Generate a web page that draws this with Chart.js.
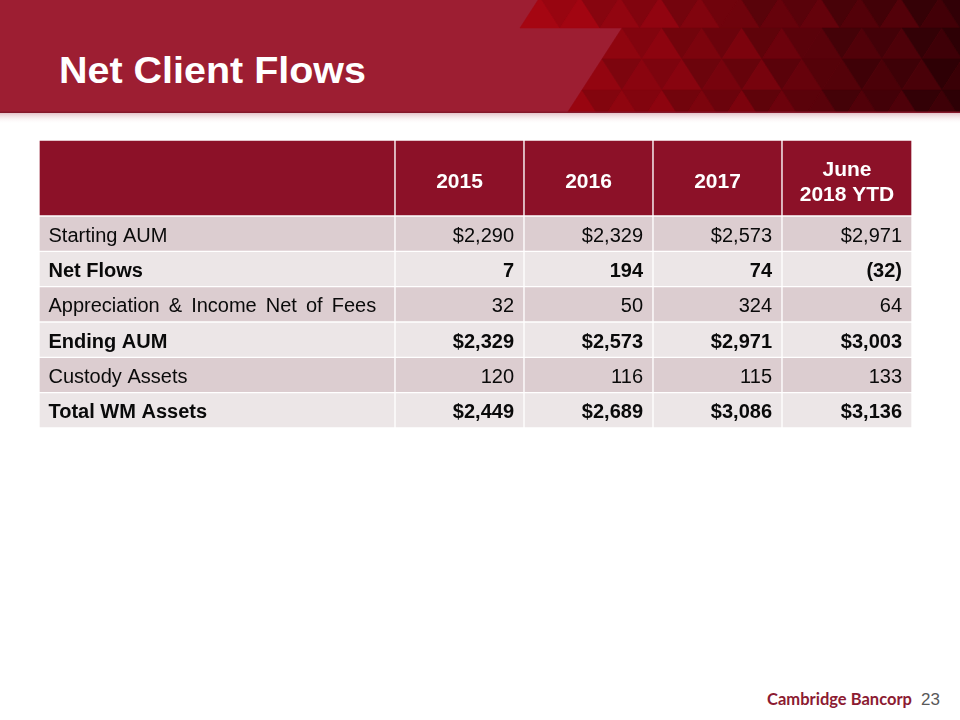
<!DOCTYPE html>
<html>
<head>
<meta charset="utf-8">
<script src="https://cdn.jsdelivr.net/npm/chart.js@4.4.1/dist/chart.umd.min.js"></script>
<style>
  html, body { margin: 0; padding: 0; background: #ffffff; width: 960px; height: 720px; overflow: hidden; }
  #page { position: relative; width: 960px; height: 720px; }
  #band { position: absolute; left: 0; top: 0; }
  #tableWrap { position: absolute; left: 39px; top: 140px; width: 873px; height: 288px; }
  #tableWrap canvas { display: block; }
  #footer { position: absolute; left: 0; top: 660px; }
</style>
</head>
<body>
<div id="page">
  <svg id="band" width="960" height="126" xmlns="http://www.w3.org/2000/svg">
    <defs>
      <linearGradient id="shadow" x1="0" y1="0" x2="0" y2="1">
        <stop offset="0" stop-color="#e4c3c9"/>
        <stop offset="1" stop-color="#ffffff" stop-opacity="0"/>
      </linearGradient>
      <clipPath id="bandClip"><rect x="0" y="0" width="960" height="112"/></clipPath>
    </defs>
    <rect x="0" y="0" width="960" height="113" fill="#9d1e32"/>
    <g id="tri" clip-path="url(#bandClip)"></g>
    <rect x="0" y="111.5" width="960" height="1.5" fill="#84172a"/>
    <rect x="0" y="113" width="960" height="11" fill="url(#shadow)"/>
    <text x="59" y="83" style="font-family:'Liberation Sans', Arial, sans-serif; font-weight:bold; font-size:37px;" fill="#ffffff" textLength="307" lengthAdjust="spacingAndGlyphs">Net Client Flows</text>
  </svg>

  <div id="tableWrap"><canvas id="chart" width="873" height="288"></canvas></div>

  <svg id="footer" width="960" height="60" xmlns="http://www.w3.org/2000/svg">
    <text x="767" y="45" style="font-family:Lato, 'Open Sans', sans-serif; font-weight:bold; font-size:17px;" fill="#8c1b32" textLength="145" lengthAdjust="spacingAndGlyphs">Cambridge Bancorp</text>
    <text x="921" y="45" style="font-family:'Liberation Sans', Arial, sans-serif; font-size:17px;" fill="#595959">23</text>
  </svg>
</div>

<script>
// ---------------- DATA ----------------
const rowLabels = [
  'Starting AUM',
  'Net Flows',
  'Appreciation & Income Net of Fees',
  'Ending AUM',
  'Custody Assets',
  'Total WM Assets'
];
const columnHeaders = ['2015', '2016', '2017', 'June\n2018 YTD'];
const startingAUM        = [2290, 2329, 2573, 2971];
const netFlows           = [7, 194, 74, -32];
const appreciationIncome = [32, 50, 324, 64];
const endingAUM          = [2329, 2573, 2971, 3003];
const custodyAssets      = [120, 116, 115, 133];
const totalWMAssets      = [2449, 2689, 3086, 3136];

const rowValues = [startingAUM, netFlows, appreciationIncome, endingAUM, custodyAssets, totalWMAssets];

// ---------------- LAYOUT / STYLE ----------------
const colWidths = [356, 129, 129, 129, 130];      // label column + 4 value columns (canvas units)
const headerHeight = 76;
const rowHeight = 35.33;
const dollarRows = [true, false, false, true, false, true];
const boldRows   = [false, true, false, true, false, true];
const headerColor = '#8c1128';
const rowColors = ['#dccdd0', '#ece6e7'];
const FONT = "'Liberation Sans', Arial, sans-serif";

const colEdges = [0];
colWidths.forEach(w => colEdges.push(colEdges[colEdges.length - 1] + w));
const totalWidth = colEdges[colEdges.length - 1];
const totalHeight = headerHeight + rowHeight * rowLabels.length;

function fmt(v, dollar) {
  const s = Math.abs(v).toLocaleString('en-US');
  if (v < 0) return '(' + (dollar ? '$' : '') + s + ')';
  return (dollar ? '$' : '') + s;
}

function cellsFor(center) {
  return colWidths.map((w, i) => ({ x: [colEdges[i], colEdges[i + 1]], y: center }));
}

const datasets = [];
datasets.push({
  label: 'header',
  data: cellsFor(headerHeight / 2),
  barThickness: headerHeight,
  backgroundColor: headerColor,
  texts: [''].concat(columnHeaders),
  kind: 'header'
});
rowLabels.forEach((lab, r) => {
  datasets.push({
    label: lab,
    data: cellsFor(headerHeight + rowHeight * r + rowHeight / 2),
    barThickness: rowHeight,
    backgroundColor: rowColors[r % 2],
    texts: [lab].concat(rowValues[r].map(v => fmt(v, dollarRows[r]))),
    kind: 'body',
    bold: boldRows[r]
  });
});
datasets.forEach(d => {
  d.borderColor = '#ffffff';
  d.borderWidth = 1;
  d.borderSkipped = false;
  d.stack = 'table';
});

const cellTextPlugin = {
  id: 'cellText',
  afterDatasetsDraw(chart) {
    const ctx = chart.ctx;
    chart.data.datasets.forEach((ds, di) => {
      const meta = chart.getDatasetMeta(di);
      meta.data.forEach((bar, ci) => {
        const p = bar.getProps(['x', 'y', 'base'], true);
        const left = Math.min(p.x, p.base), right = Math.max(p.x, p.base);
        const text = ds.texts[ci];
        if (!text) return;
        ctx.save();
        if (ds.kind === 'header') {
          ctx.fillStyle = '#ffffff';
          ctx.font = 'bold 21px ' + FONT;
          ctx.textAlign = 'center';
          ctx.textBaseline = 'alphabetic';
          const lines = text.split('\n');
          const lh = 25;
          const cx = (left + right) / 2;
          const first = p.y + 2.5 + 7.5 - (lines.length - 1) * lh / 2;
          lines.forEach((ln, k) => ctx.fillText(ln, cx, first + k * lh));
        } else {
          ctx.fillStyle = '#0a0a0a';
          ctx.font = (ds.bold ? 'bold ' : '') + '20px ' + FONT;
          ctx.textBaseline = 'alphabetic';
          if (ci === 0) {
            ctx.textAlign = 'left';
            if (text.length > 25 && 'wordSpacing' in ctx) ctx.wordSpacing = '3.5px';
            ctx.fillText(text, left + 9.5, p.y + 8);
          } else {
            ctx.textAlign = 'right';
            ctx.fillText(text, right - 10, p.y + 8);
          }
        }
        ctx.restore();
      });
    });
  }
};

new Chart(document.getElementById('chart'), {
  type: 'bar',
  data: { datasets },
  options: {
    indexAxis: 'y',
    responsive: false,
    animation: false,
    events: [],
    layout: { padding: 0 },
    scales: {
      x: { type: 'linear', min: 0, max: totalWidth, display: false, stacked: false, offset: false },
      y: { type: 'linear', min: 0, max: totalHeight, reverse: true, display: false, offset: false }
    },
    plugins: { legend: { display: false }, tooltip: { enabled: false }, title: { display: false } }
  },
  plugins: [cellTextPlugin]
});

// ---------------- decorative triangle mosaic in the title band ----------------
(function () {
  const g = document.getElementById('tri');
  const NS = 'http://www.w3.org/2000/svg';
  const w = 40, h = 31, top = -3;
  const rowStart = [520, 602, 582, 562];
  const shade = [0, -12, 8, -6, 14, -16, 4, -4, 10, -10, 2, -8];
  for (let r = 0; r < 4; r++) {
    const y0 = top + r * h, y1 = y0 + h;
    const off = (r % 2) ? w / 2 : 0;
    let i = 0;
    for (let x = rowStart[r] - off - w; x < 1000; x += w / 2, i++) {
      const up = ((i + r) % 2 === 0);
      const cx = x + w / 2;
      if (cx < rowStart[r] + 4) continue;
      const t = Math.min(1, Math.max(0, (cx - 520) / 440));
      const s = shade[(i * 5 + r * 7) % shade.length];
      const R = Math.max(35, Math.min(190, 168 - 115 * t + s));
      const G = Math.max(0, Math.round(6 - 6 * t));
      const B = Math.max(4, Math.round(18 - 12 * t + s * 0.1));
      const pts = up
        ? `${x},${y1} ${x + w / 2},${y0} ${x + w},${y1}`
        : `${x},${y0} ${x + w},${y0} ${x + w / 2},${y1}`;
      const col = `rgb(${Math.round(R)},${G},${B})`;
      const poly = document.createElementNS(NS, 'polygon');
      poly.setAttribute('points', pts);
      poly.setAttribute('fill', col);
      poly.setAttribute('stroke', col);
      poly.setAttribute('stroke-width', '0.6');
      g.appendChild(poly);
    }
  }
})();
</script>
</body>
</html>
